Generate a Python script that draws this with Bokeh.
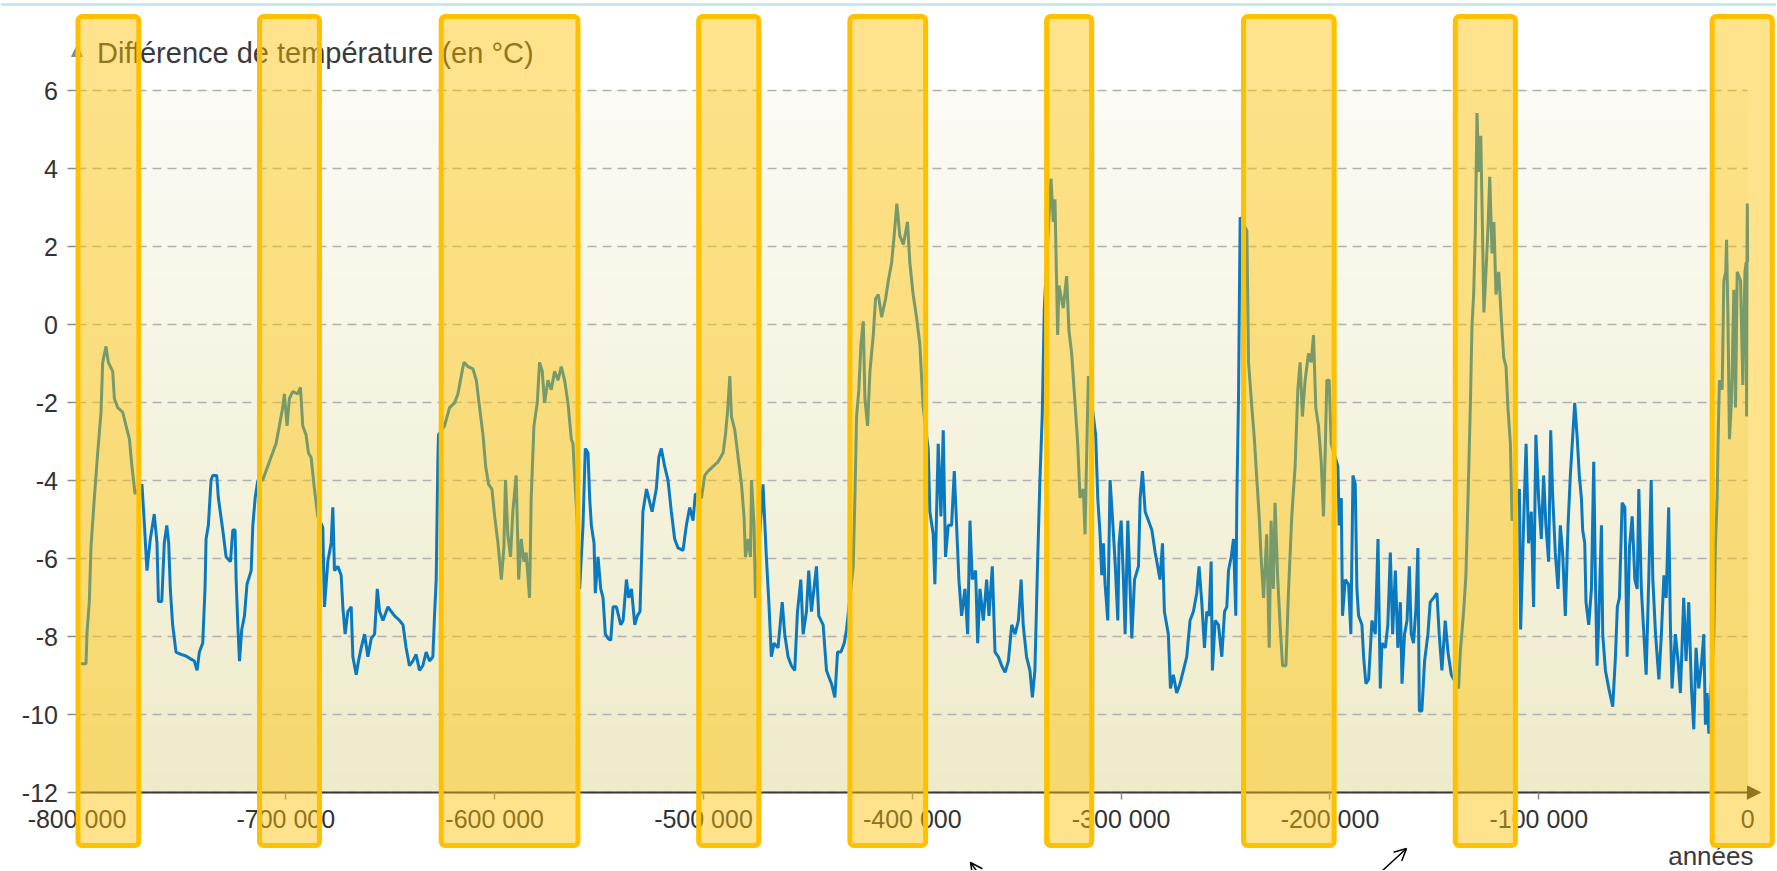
from bokeh.plotting import figure
from bokeh.models import (BoxAnnotation, Label, Arrow, NormalHead, OpenHead, Span,
                          FixedTicker, ColumnDataSource, Range1d)
from bokeh.embed import file_html
from bokeh.resources import INLINE

# ---------------- data ----------------
years = [
    -798100, -795700, -795200, -794100, -793300, -791700, -790100, -788500, -787700, -786100,
    -785000, -782900, -782100, -780500, -778100, -776500, -774900, -773700, -772200, -768900,
    -767700, -766500, -764900, -763000, -761700, -761000, -759400, -758200, -757000, -756100,
    -755300, -754200, -752600, -750200, -747800, -745400, -743800, -742500, -741400, -739800,
    -738700, -738200, -737100, -735800, -735000, -733100, -732300, -730200, -728600, -726500,
    -725400, -724300, -723800, -723000, -722200, -721100, -719800, -718600, -716600, -715800,
    -714700, -713400, -711100, -708700, -706300, -704700, -703100, -701500, -700700, -699400,
    -698300, -696700, -694300, -693000, -691900, -690300, -689200, -687900, -686300, -684700,
    -682300, -681500, -679900, -678300, -677500, -676700, -675100, -673500, -672700, -671600,
    -670300, -668700, -667900, -666300, -665200, -663900, -662300, -660700, -659100, -657500,
    -656200, -655100, -653500, -651100, -649500, -647900, -645500, -643900, -642400, -640800,
    -639200, -637600, -636000, -634400, -632800, -631200, -629600, -628800, -628000, -627200,
    -626900, -624000, -621600, -619200, -617600, -616000, -614700, -612800, -610400, -608800,
    -607200, -605600, -604300, -602900, -601300, -600000, -598400, -596800, -595600, -594800,
    -593700, -592400, -591300, -589700, -588500, -587300, -586000, -584900, -583300, -582500,
    -581200, -579600, -578500, -577200, -576100, -574500, -572900, -571300, -569700, -568100,
    -566500, -564900, -563300, -562500, -561700, -560500, -559300, -557700, -556600, -555300,
    -554500, -553700, -552400, -551800, -550500, -549200, -548100, -547000, -545700, -544400,
    -543300, -541700, -539600, -538500, -536900, -535800, -534500, -532900, -531700, -530400,
    -529000, -527300, -525700, -524600, -522600, -521400, -520200, -518600, -517000, -515400,
    -513800, -512200, -509800, -508200, -506600, -505000, -503900, -501000, -499400, -497800,
    -495400, -493000, -490600, -489500, -488500, -487400, -486600, -485000, -483400, -481800,
    -480600, -479900, -478600, -477500, -477000, -475800, -475100, -471500, -470600, -469900,
    -468700, -467500, -466200, -464300, -462300, -461100, -459500, -457900, -456300, -455000,
    -453400, -452300, -450700, -449600, -448300, -445900, -444800, -442700, -441100, -439500,
    -438700, -437100, -435800, -434200, -432600, -431500, -428300, -427500, -426700, -425600,
    -424600, -423500, -422700, -421400, -420300, -418700, -417600, -416300, -414700, -412800,
    -411500, -409900, -408700, -407400, -406000, -404300, -402300, -401200, -399600, -398000,
    -396400, -395600, -394800, -392400, -391600, -390000, -389200, -387600, -386300, -385200,
    -384100, -382800, -381200, -379900, -378800, -377700, -376400, -374800, -373500, -372400,
    -371300, -369700, -368700, -367600, -366000, -364400, -363300, -361700, -360400, -358800,
    -357200, -355600, -354000, -352400, -350800, -349200, -347900, -346900, -345300, -343700,
    -342500, -341300, -340000, -338900, -337800, -336800, -333600, -332500, -331700, -330400,
    -329800, -327700, -326100, -325000, -323700, -322100, -320800, -319700, -318100, -317300,
    -316500, -315700, -312200, -311200, -310100, -309300, -308500, -307700, -306400, -305300,
    -304200, -302900, -301600, -301000, -300000, -298900, -298100, -296800, -295700, -294900,
    -293600, -291700, -290900, -289800, -288500, -286900, -285300, -283700, -282500, -281400,
    -280200, -279300, -277400, -276400, -275000, -273400, -271800, -270200, -268600, -267000,
    -265400, -263800, -262700, -261400, -260100, -259000, -257900, -256900, -256300, -255000,
    -253400, -251800, -250500, -249400, -248600, -247300, -246200, -245100, -244600, -243800,
    -243300, -243000, -239800, -239000, -237400, -236200, -235000, -233900, -233000, -231800,
    -230300, -229100, -228200, -227100, -226300, -225000, -223900, -222700, -221100, -219900,
    -218300, -216700, -215400, -214300, -213200, -211900, -210300, -209000, -207900, -206800,
    -205500, -204200, -203100, -202300, -201500, -200400, -199400, -196200, -195600, -194600,
    -194000, -192700, -191100, -190000, -189000, -187900, -187100, -186300, -184700, -183900,
    -182800, -181500, -179900, -178300, -177000, -175900, -175100, -173500, -172300, -171100,
    -170000, -168700, -167500, -166300, -165500, -164300, -163100, -162000, -161100, -160000,
    -158800, -157900, -157200, -156000, -154700, -153100, -152000, -150400, -148800, -147700,
    -146400, -144800, -143500, -141900, -138400, -137600, -136000, -134900, -133900, -132800,
    -132000, -131200, -130400, -129600, -128800, -127800, -127200, -126300, -125300, -124300,
    -123500, -122400, -121500, -120500, -119200, -118000, -116800, -115700, -114800, -113600,
    -112800, -109300, -108700, -107300, -106100, -104900, -103600, -102500, -101400, -100100,
    -98800, -97700, -96600, -95300, -94300, -93400, -92100, -90800, -89700, -88600,
    -87300, -86000, -84900, -82800, -81700, -80600, -79600, -79000, -78000, -77400,
    -76100, -74800, -73700, -72900, -72100, -71300, -70000, -69400, -68100, -66500,
    -64600, -63300, -62400, -61400, -60100, -58800, -57700, -56600, -55300, -54000,
    -52900, -52100, -50900, -49700, -48600, -47300, -46200, -45400, -44100, -42500,
    -41300, -40100, -39000, -37800, -37000, -36200, -34600, -33300, -32200, -30600,
    -29500, -28200, -26900, -25800, -24700, -23400, -22000, -21000, -20200, -19400,
    -18600, -16200, -15400, -14600, -14100, -13500, -12200, -11400, -10500, -10100,
    -9500, -8700, -7700, -6600, -5800, -5000, -3400, -2300, -1300, -700,
    -500, -300, -150, 0,
]
temps = [
    -8.7, -8.7, -7.9, -7.1, -5.7, -4.45, -3.3, -2.25, -0.97, -0.56,
    -0.97, -1.2, -1.9, -2.13, -2.25, -2.6, -2.94, -3.64, -4.34, -4.1,
    -5.15, -6.31, -5.5, -4.86, -5.6, -7.1, -7.1, -5.6, -5.15, -5.6,
    -6.8, -7.7, -8.4, -8.46, -8.5, -8.58, -8.63, -8.87, -8.4, -8.17,
    -6.78, -5.5, -5.15, -3.99, -3.87, -3.87, -4.45, -5.27, -5.96, -6.08,
    -5.27, -5.27, -6.54, -7.7, -8.63, -7.82, -7.47, -6.66, -6.31, -5.15,
    -4.45, -3.99, -3.99, -3.64, -3.29, -3.06, -2.6, -2.13, -1.78, -2.6,
    -1.9, -1.72, -1.78, -1.61, -2.6, -2.83, -3.29, -3.41, -4.22, -4.92,
    -5.2, -7.24, -6.08, -5.6, -4.69, -6.31, -6.2, -6.43, -7.24, -7.94,
    -7.36, -7.24, -8.52, -8.98, -8.63, -8.29, -7.94, -8.52, -8.05, -7.94,
    -6.78, -7.36, -7.59, -7.24, -7.36, -7.47, -7.59, -7.7, -8.29, -8.75,
    -8.63, -8.46, -8.87, -8.75, -8.4, -8.63, -8.52, -7.47, -6.54, -3.52,
    -2.83, -2.6, -2.13, -2.01, -1.78, -1.32, -0.97, -1.08, -1.14, -1.43,
    -2.13, -2.83, -3.64, -4.1, -4.22, -4.92, -5.61, -6.54, -5.73, -3.99,
    -5.38, -5.96, -4.8, -3.87, -6.54, -5.5, -6.08, -5.85, -7.01, -4.45,
    -2.6, -2.01, -0.97, -1.2, -2.01, -1.43, -1.67, -1.2, -1.43, -1.08,
    -1.43, -2.01, -2.94, -3.06, -3.87, -5.03, -6.78, -5.15, -3.18, -3.29,
    -4.45, -5.15, -5.61, -6.89, -5.96, -6.78, -7.01, -7.94, -8.05, -8.1,
    -7.24, -7.24, -7.7, -7.59, -6.54, -7.01, -6.78, -7.7, -7.47, -7.36,
    -4.8, -4.22, -4.57, -4.8, -4.22, -3.41, -3.18, -3.64, -3.99, -4.8,
    -5.5, -5.73, -5.79, -5.15, -4.69, -5.03, -4.34, -4.45, -3.87, -3.76,
    -3.64, -3.52, -3.29, -2.83, -2.25, -1.32, -2.36, -2.71, -3.41, -4.1,
    -4.92, -5.96, -5.5, -5.96, -3.99, -5.15, -7.01, -4.1, -5.15, -5.96,
    -7.12, -8.52, -8.17, -8.29, -7.12, -7.94, -8.52, -8.75, -8.87, -7.36,
    -6.54, -7.94, -7.36, -6.31, -7.36, -6.2, -7.47, -7.7, -8.87, -9.1,
    -9.21, -9.56, -8.4, -8.4, -8.17, -7.82, -6.2, -4.45, -2.36, -1.67,
    -0.5, 0.08, -1.9, -2.6, -1.2, -0.27, 0.66, 0.77, 0.19, 0.66,
    1.12, 1.59, 2.28, 3.1, 2.28, 2.05, 2.63, 1.59, 0.77, 0.19,
    -0.5, -1.32, -2.13, -3.18, -4.8, -5.38, -6.66, -3.06, -4.92, -2.71,
    -5.96, -5.15, -5.15, -3.76, -5.15, -6.54, -7.47, -6.78, -7.94, -5.03,
    -6.54, -6.31, -8.17, -6.78, -7.59, -6.54, -7.47, -6.2, -8.4, -8.52,
    -8.75, -8.92, -8.63, -7.7, -7.94, -7.59, -6.54, -7.7, -8.52, -8.87,
    -9.56, -8.87, -6.08, -3.99, -2.36, 0.42, 3.74, 2.63, 3.21, -0.27,
    1.0, 0.42, 1.24, -0.16, -0.74, -2.01, -3.06, -4.45, -4.22, -5.38,
    -3.29, -1.32, -2.83, -4.45, -5.38, -6.43, -5.61, -6.66, -7.59, -3.99,
    -4.92, -6.08, -7.59, -5.61, -5.03, -6.54, -7.94, -5.03, -6.78, -8.05,
    -6.54, -6.2, -4.45, -3.76, -4.8, -5.03, -5.27, -5.85, -6.2, -6.54,
    -5.61, -7.36, -7.94, -9.33, -8.98, -9.45, -9.21, -8.87, -8.52, -7.59,
    -7.36, -6.89, -6.2, -7.12, -8.29, -7.36, -7.47, -6.08, -8.87, -7.59,
    -7.7, -8.52, -7.36, -7.24, -6.31, -5.96, -5.5, -7.47, -4.45, -1.9,
    1.12, 2.75, 2.4, -0.97, -2.13, -2.94, -3.99, -4.92, -5.96, -7.01,
    -5.38, -8.29, -5.03, -6.78, -4.57, -6.54, -7.7, -8.75, -8.75, -6.89,
    -4.92, -3.64, -1.67, -0.97, -2.36, -1.43, -0.74, -0.97, -0.27, -2.13,
    -2.6, -3.52, -4.92, -3.29, -1.43, -1.43, -3.06, -3.64, -5.15, -4.45,
    -7.47, -6.54, -6.66, -7.94, -3.87, -4.1, -6.78, -7.47, -7.7, -8.52,
    -9.21, -9.1, -7.59, -7.94, -5.5, -9.33, -8.17, -8.29, -7.7, -5.85,
    -7.94, -6.31, -8.29, -7.12, -9.21, -7.94, -7.59, -6.2, -7.94, -8.17,
    -7.24, -5.73, -9.91, -9.91, -8.63, -7.94, -7.12, -7.01, -6.89, -7.94,
    -8.87, -7.59, -8.4, -8.98, -9.33, -8.4, -7.36, -6.43, -4.45, -2.13,
    -0.04, 0.77, 2.4, 5.42, 3.91, 4.84, 3.1, 0.31, 1.35, 2.52,
    3.79, 1.82, 2.63, 0.77, 1.35, 0.19, -0.85, -1.08, -2.13, -3.06,
    -5.03, -4.22, -7.82, -5.15, -3.06, -5.61, -4.8, -7.24, -2.83, -4.45,
    -5.5, -3.87, -5.15, -6.08, -2.71, -4.34, -5.85, -6.78, -5.15, -5.85,
    -7.47, -5.15, -3.87, -2.01, -2.83, -3.87, -4.45, -5.27, -5.61, -7.12,
    -7.7, -6.78, -3.52, -6.54, -8.75, -7.59, -5.15, -7.94, -8.87, -9.33,
    -9.8, -8.52, -7.24, -7.01, -4.57, -4.69, -8.52, -5.73, -4.92, -6.54,
    -6.78, -4.22, -6.78, -7.94, -8.98, -6.43, -3.99, -6.54, -7.94, -9.1,
    -7.94, -6.43, -7.01, -4.69, -7.7, -9.33, -7.94, -8.63, -9.45, -7.01,
    -8.63, -7.12, -9.33, -10.38, -8.29, -9.33, -8.63, -7.94, -10.26, -9.45,
    -10.49, -7.94, -5.61, -4.45, -2.83, -1.43, -1.67, 1.12, 1.35, 2.17,
    0.42, -2.94, -1.9, 0.89, -2.13, 1.35, 1.12, -1.55, 1.35, 1.59,
    -2.36, 1.82, 3.1, 1.6,
]

# interglacial periods highlighted by the yellow frames (years)
interglacial_start = [-799500, -712600, -625600, -502300, -429900, -335700, -241400, -140000, -17000]
interglacial_end = [-770400, -683900, -560100, -473500, -393600, -314100, -198000, -111200, 11800]

x_ticks = [-800000, -700000, -600000, -500000, -400000, -300000, -200000, -100000, 0]
x_tick_labels = ["-800 000", "-700 000", "-600 000", "-500 000", "-400 000",
                 "-300 000", "-200 000", "-100 000", "0"]
y_ticks = [-12, -10, -8, -6, -4, -2, 0, 2, 4, 6]
y_tick_labels = ["-12", "-10", "-8", "-6", "-4", "-2", "0", "2", "4", "6"]
y_title = "Différence de température (en °C)"
x_title = "années"

# ---------------- layout (pixels; the canvas starts at the page corner) ----------------
W, H = 1776, 870
X_PER_PX = 100000 / 208.83          # years per pixel
Y_PER_PX = 1 / 39.0                 # degrees per pixel
X0, Y0 = -800000, -12
X0_PX, Y0_PX = 76.5, 792            # where (-800000, -12) lies on the canvas


def xd(px):
    """canvas x pixel -> data x"""
    return X0 + (px - X0_PX) * X_PER_PX


def yd(px):
    """canvas y pixel (from top) -> data y"""
    return Y0 + (Y0_PX - px) * Y_PER_PX


FONT = "Liberation Sans"
TXT = "#333333"

p = figure(width=W, height=H, min_border=0,
           x_range=Range1d(xd(0), xd(W)), y_range=Range1d(yd(H), yd(0)),
           output_backend="svg", toolbar_location=None,
           background_fill_color="white", border_fill_color="white")
p.outline_line_color = None

# gradient background of the plotting area (from -12 to 6, up to year 0)
n_bands = 72
band_h = (y_ticks[-1] - y_ticks[0]) / n_bands
bottoms, tops, cols = [], [], []
c_bot = (238, 235, 202)
c_top = (251, 251, 245)
for i in range(n_bands):
    b = y_ticks[0] + i * band_h
    t = (i + 0.5) / n_bands
    c = tuple(int(round(c_bot[k] + (c_top[k] - c_bot[k]) * t)) for k in range(3))
    bottoms.append(b)
    tops.append(b + band_h)
    cols.append("#%02x%02x%02x" % c)
bands = p.quad(left=x_ticks[0], right=x_ticks[-1], bottom=bottoms, top=tops,
               fill_color=cols, line_color=cols, line_width=1)
bands.level = "image"

# grid
p.xgrid.grid_line_color = None
p.ygrid.ticker = FixedTicker(ticks=y_ticks)
p.ygrid.grid_line_color = "#b0b0b0"
p.ygrid.grid_line_dash = "9 6"
p.ygrid.grid_line_width = 1.3
p.ygrid.cross_bounds = (x_ticks[0], x_ticks[-1])

# the temperature curve
src = ColumnDataSource(dict(year=years, temp=temps))
p.line("year", "temp", source=src, line_color="#0a79bf", line_width=3)

# axes, drawn at fixed locations inside the frame
arrow_x = xd(1760)
arrow_y = yd(45)

ax = p.xaxis[0]
ax.fixed_location = Y0
ax.ticker = FixedTicker(ticks=x_ticks)
ax.major_label_overrides = {k: v for k, v in zip(x_ticks, x_tick_labels)}
ax.bounds = (X0, arrow_x - 5 * X_PER_PX)
ax.axis_line_color = "#3a3a3a"
ax.axis_line_width = 2
ax.major_tick_out = 7
ax.major_tick_in = 0
ax.major_tick_line_color = "#8a8a8a"
ax.major_tick_line_width = 1.5
ax.minor_tick_line_color = None
ax.major_label_text_font = FONT
ax.major_label_text_font_size = "25px"
ax.major_label_text_color = TXT
ax.major_label_standoff = 5

ay = p.yaxis[0]
ay.fixed_location = X0
ay.ticker = FixedTicker(ticks=y_ticks)
ay.major_label_overrides = {k: v for k, v in zip(y_ticks, y_tick_labels)}
ay.bounds = (Y0, arrow_y - 5 * Y_PER_PX)
ay.axis_line_color = "#8a8a8a"
ay.axis_line_width = 1.5
ay.major_tick_out = 10
ay.major_tick_in = 0
ay.major_tick_line_color = "#8a8a8a"
ay.major_tick_line_width = 1.5
ay.minor_tick_line_color = None
ay.major_label_text_font = FONT
ay.major_label_text_font_size = "25px"
ay.major_label_text_color = TXT
ay.major_label_standoff = 9

# arrow heads of the axes
p.add_layout(Arrow(end=NormalHead(size=13, fill_color="#3a3a3a", line_color="#3a3a3a"),
                   x_start=arrow_x - 20 * X_PER_PX, y_start=Y0, x_end=arrow_x, y_end=Y0,
                   line_alpha=0))
p.add_layout(Arrow(end=NormalHead(size=11, fill_color="#8a8a8a", line_color="#8a8a8a"),
                   x_start=X0, y_start=arrow_y - 20 * Y_PER_PX, x_end=X0, y_end=arrow_y,
                   line_alpha=0))

# thin frame line at the top of the page
p.add_layout(Span(location=yd(4), dimension="width", line_color="#bfe3ec", line_width=2.5))

# axis titles
p.add_layout(Label(x=X0, y=yd(52), x_offset=20, text=y_title,
                   text_font=FONT, text_font_size="29px", text_color="#3a3a3a",
                   text_baseline="middle", text_align="left"))
p.add_layout(Label(x=xd(1753), y=yd(840), text=x_title, text_font=FONT,
                   text_font_size="26px", text_color="#3a3a3a",
                   text_baseline="top", text_align="right"))

# yellow frames around the interglacials
box_top = yd(16)
box_bottom = yd(845)
for s, e in zip(interglacial_start, interglacial_end):
    p.add_layout(BoxAnnotation(left=s, right=e, top=box_top, bottom=box_bottom,
                               fill_color="#FFC000", fill_alpha=0.45,
                               line_color="#FFC000", line_width=5, line_alpha=1.0,
                               border_radius=4, level="annotation"))

# small annotation arrows at the bottom
p.add_layout(Arrow(end=OpenHead(size=12, line_color="black", line_width=1.5),
                   x_start=xd(990), y_start=yd(890), x_end=xd(970), y_end=yd(862),
                   line_color="black", line_width=1.5))
p.add_layout(Arrow(end=OpenHead(size=12, line_color="black", line_width=1.5),
                   x_start=xd(1381), y_start=yd(871), x_end=xd(1406), y_end=yd(848),
                   line_color="black", line_width=1.5))

open("out.html", "w").write(file_html(p, INLINE))
